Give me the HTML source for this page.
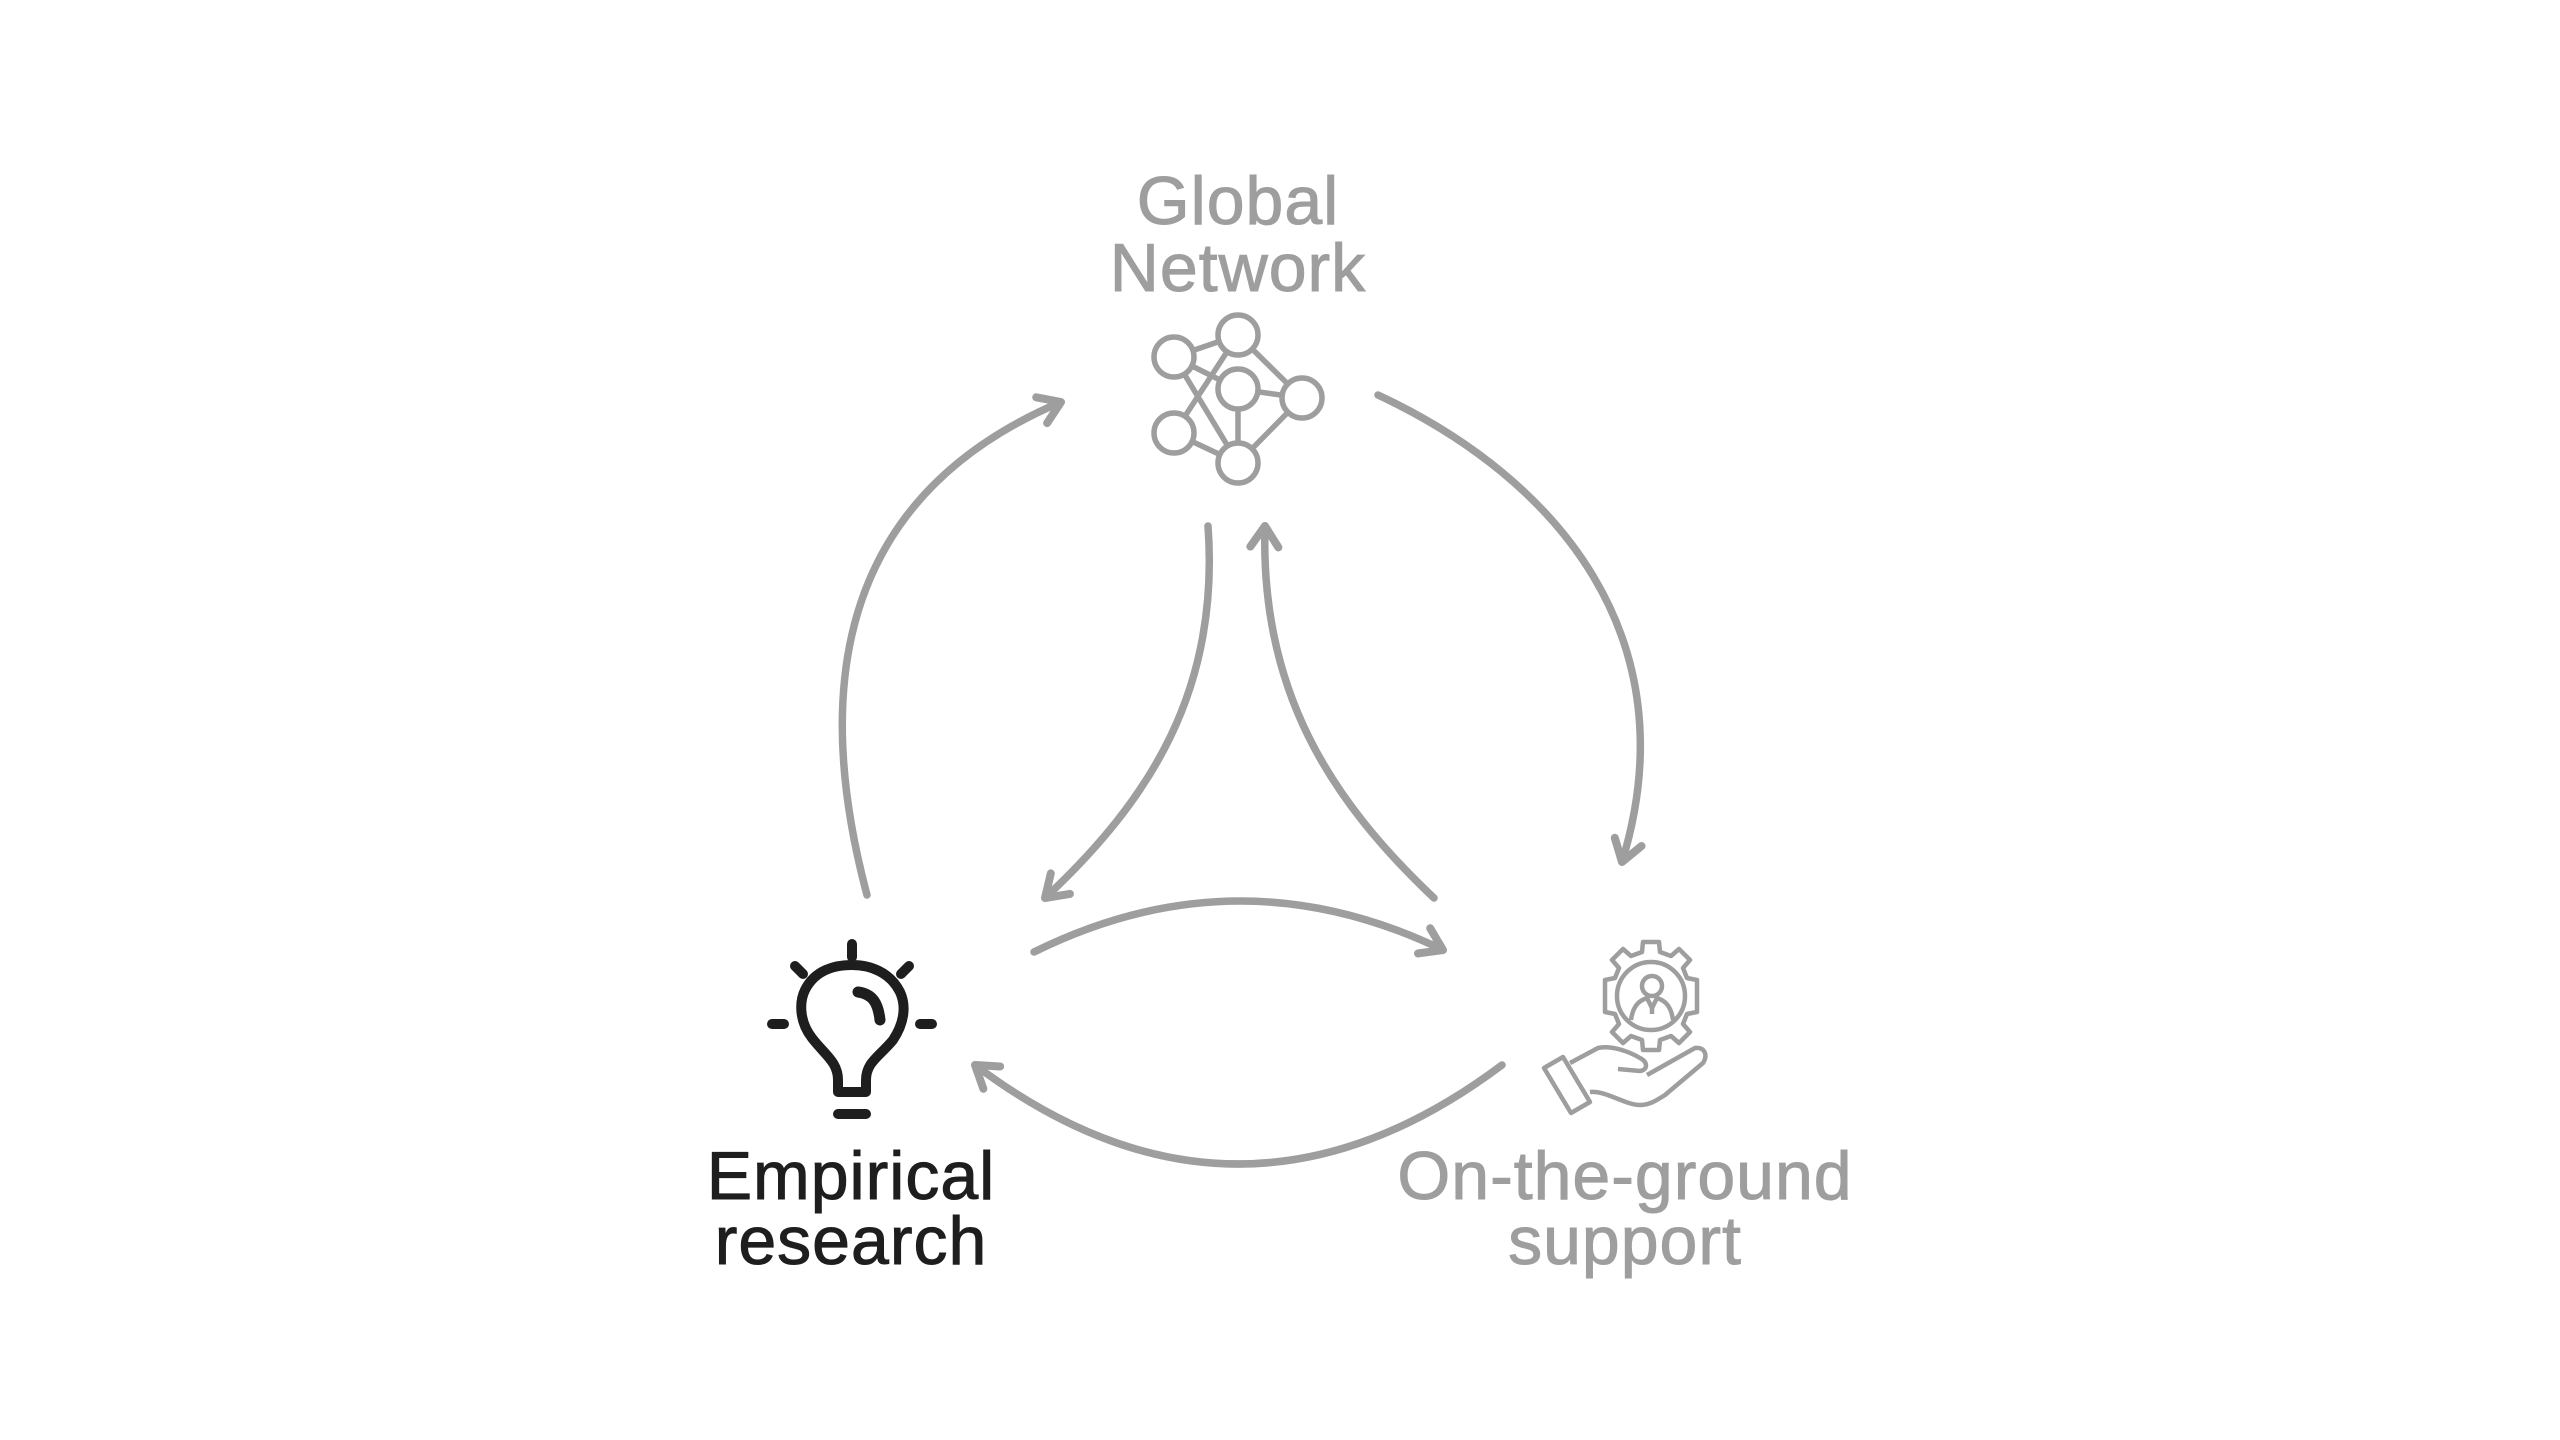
<!DOCTYPE html>
<html><head><meta charset="utf-8"><style>
html,body{margin:0;padding:0;background:#fff;}
svg{display:block;}
</style></head><body>
<svg width="2560" height="1440" viewBox="0 0 2560 1440" xmlns="http://www.w3.org/2000/svg">
<defs>
<marker id="ah" markerWidth="10" markerHeight="10" refX="7" refY="5" orient="auto" markerUnits="userSpaceOnUse" viewBox="0 0 10 10" overflow="visible">
<path d="M-14,-9 L7,5 L-14,19" fill="none" stroke="#9e9e9e" stroke-width="8" stroke-linecap="round" stroke-linejoin="round"/>
</marker>
</defs>
<rect width="2560" height="1440" fill="#fff"/>
<g fill="none" stroke="#9e9e9e" stroke-width="7.5" stroke-linecap="round" marker-end="url(#ah)">
<path d="M867,895 C815,700 830,500 1061,402"/>
<path d="M1378,395 C1560,480 1690,640 1622,862"/>
<path d="M1502,1065 Q1238,1263 975,1065"/>
<path d="M1034,952 Q1238,851 1443,950"/>
<path d="M1208,526 C1220,690 1150,800 1045,898"/>
<path d="M1434,898 C1330,800 1260,690 1265,526"/>
</g>
<g font-family="'Liberation Sans',sans-serif" font-size="68" text-anchor="middle" letter-spacing="1" stroke-width="1">
<text x="1238" y="224" fill="#9e9e9e" stroke="#9e9e9e">Global</text>
<text x="1238" y="291" fill="#9e9e9e" stroke="#9e9e9e">Network</text>
<text x="851" y="1199" fill="#1e1e1e" stroke="#1e1e1e">Empirical</text>
<text x="851" y="1264" fill="#1e1e1e" stroke="#1e1e1e">research</text>
<text x="1625" y="1199" fill="#9e9e9e" stroke="#9e9e9e">On-the-ground</text>
<text x="1625" y="1264" fill="#9e9e9e" stroke="#9e9e9e">support</text>
</g>
<!-- network icon -->
<g stroke="#9e9e9e" stroke-width="5.5" fill="none">
<line x1="1238" y1="335" x2="1174" y2="357"/>
<line x1="1238" y1="335" x2="1302" y2="398"/>
<line x1="1302" y1="398" x2="1238" y2="463"/>
<line x1="1238" y1="463" x2="1174" y2="433"/>
<line x1="1174" y1="357" x2="1238" y2="389"/>
<line x1="1238" y1="389" x2="1302" y2="398"/>
<line x1="1238" y1="389" x2="1238" y2="463"/>
<line x1="1174" y1="357" x2="1238" y2="463"/>
<line x1="1238" y1="335" x2="1174" y2="433"/>
<g fill="#fff">
<circle cx="1238" cy="335" r="20"/>
<circle cx="1174" cy="357" r="20"/>
<circle cx="1238" cy="389" r="20"/>
<circle cx="1302" cy="398" r="20"/>
<circle cx="1174" cy="433" r="20"/>
<circle cx="1238" cy="463" r="20"/>
</g>
</g>
<!-- bulb -->
<g stroke="#1e1e1e" stroke-width="10" fill="none" stroke-linecap="round" stroke-linejoin="round">
<path d="M838,1092 L838,1080 C838,1062 825,1055 812,1038 C798,1020 800,1000 805,990 C815,970 835,965 852,965 C870,965 890,972 900,992 C906,1005 905,1022 893,1040 C880,1056 866,1062 866,1080 L866,1092 Z"/>
<line x1="838" y1="1114" x2="866" y2="1114"/>
<line x1="852" y1="944" x2="852" y2="957"/>
<line x1="795" y1="966" x2="803" y2="974"/>
<line x1="909" y1="966" x2="901" y2="974"/>
<line x1="772" y1="1024" x2="784" y2="1024"/>
<line x1="920" y1="1024" x2="932" y2="1024"/>
<path d="M858,992 C872,994 878,1002 880,1020" stroke-width="11"/>
</g>
<!-- gear + hand -->
<g stroke="#9e9e9e" stroke-width="4.5" fill="none" stroke-linejoin="round">
<g transform="translate(1651,996)">
<path d="M-8,-54 L8,-54 L9,-44 L20,-40 L28,-47 L39,-36 L32,-28 L36,-18 L46,-16 L46,0 L46,16 L36,18 L32,28 L39,36 L28,47 L20,40 L9,44 L8,54 L-8,54 L-9,44 L-20,40 L-28,47 L-39,36 L-32,28 L-36,18 L-46,16 L-46,-16 L-36,-18 L-32,-28 L-39,-36 L-28,-47 L-20,-40 L-9,-44 Z"/>
<circle cx="0" cy="0" r="34"/>
<circle cx="1" cy="-10" r="10"/>
<path d="M-20,24 C-18,8 -10,4 -4,2 L1,12 L6,2 C12,4 20,8 22,24"/>
<line x1="1" y1="12" x2="1" y2="18"/>
</g>
<path d="M1544,1068 L1563,1057 L1590,1102 L1571,1113 Z"/>
<path d="M1570,1063 L1598,1048 C1612,1045 1630,1052 1640,1058 C1648,1062 1648,1070 1640,1071 L1618,1069"/>
<path d="M1590,1092 C1605,1090 1625,1105 1640,1105 C1650,1105 1657,1100 1665,1095 L1703,1063 C1708,1055 1705,1047 1695,1048 L1647,1075"/>
</g>
</svg>
</body></html>
